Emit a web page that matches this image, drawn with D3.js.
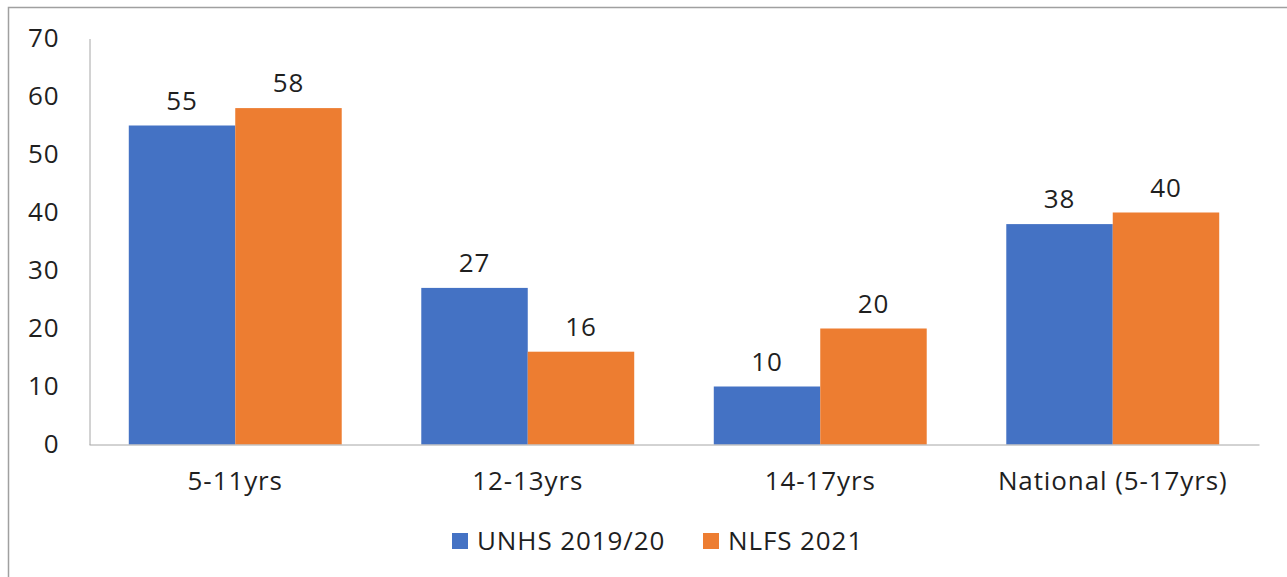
<!DOCTYPE html>
<html>
<head>
<meta charset="utf-8">
<script src="https://cdn.jsdelivr.net/npm/d3@7"></script>
<style>
  body { margin: 0; background: #fff; }
  svg { display: block; font-family: "Open Sans", "Noto Sans", sans-serif; }
  text { letter-spacing: 0.9px; }
</style>
</head>
<body>
<div id="chart"></div>
<script>
// データ
var categories = ['5-11yrs', '12-13yrs', '14-17yrs', 'National (5-17yrs)'];
var seriesNames = ['UNHS 2019/20', 'NLFS 2021'];
var unhs = [55, 27, 10, 38];
var nlfs = [58, 16, 20, 40];
var yTicks = [0, 10, 20, 30, 40, 50, 60, 70];
var colors = ['#4472C4', '#ED7D31'];

var width = 1287;
var height = 577;
var fontSize = 26;
var textColor = '#1f1f1f';

var svg = d3.select('#chart').append('svg')
  .attr('width', width)
  .attr('height', height);

// 外枠（上と左だけ見えている）
svg.append('path')
  .attr('d', 'M8.5,' + height + 'V7.5H' + width)
  .attr('fill', 'none')
  .attr('stroke', '#a0a0a0')
  .attr('stroke-width', 1.5);

var x0 = d3.scaleBand()
  .domain(categories)
  .range([89, 1259])
  .paddingInner(0.272)
  .paddingOuter(0.136);

var x1 = d3.scaleBand()
  .domain(seriesNames)
  .range([0, x0.bandwidth()]);

var y = d3.scaleLinear()
  .domain([0, 70])
  .range([444.5, 38.5]);

var rows = categories.map(function(c, i) {
  return { cat: c, vals: [unhs[i], nlfs[i]] };
});

// y軸
var yAxis = svg.append('g')
  .attr('transform', 'translate(89.5,0)')
  .call(d3.axisLeft(y).tickValues(yTicks).tickSize(0).tickPadding(30));
yAxis.select('.domain').attr('stroke', '#a6a6a6');
yAxis.selectAll('text')
  .attr('font-size', fontSize)
  .attr('fill', textColor)
  .attr('font-family', '"Open Sans", sans-serif');

// 棒
var group = svg.selectAll('.grp').data(rows).enter().append('g')
  .attr('class', 'grp')
  .attr('transform', function(d) { return 'translate(' + x0(d.cat) + ',0)'; });

group.selectAll('rect')
  .data(function(d) { return d.vals.map(function(v, i) { return { key: seriesNames[i], v: v, i: i }; }); })
  .enter().append('rect')
  .attr('x', function(d) { return x1(d.key); })
  .attr('y', function(d) { return y(d.v); })
  .attr('width', x1.bandwidth())
  .attr('height', function(d) { return y(0) - y(d.v); })
  .attr('fill', function(d) { return colors[d.i]; });

group.selectAll('.val')
  .data(function(d) { return d.vals.map(function(v, i) { return { key: seriesNames[i], v: v }; }); })
  .enter().append('text')
  .attr('class', 'val')
  .attr('x', function(d) { return x1(d.key) + x1.bandwidth() / 2; })
  .attr('y', function(d) { return y(d.v) - 16; })
  .attr('text-anchor', 'middle')
  .attr('font-size', fontSize)
  .attr('fill', textColor)
  .text(function(d) { return d.v; });

// x軸
var xAxis = svg.append('g')
  .attr('transform', 'translate(0,' + y(0) + ')')
  .call(d3.axisBottom(x0).tickSize(0).tickPadding(27).tickSizeOuter(0));
xAxis.select('.domain').attr('stroke', '#a6a6a6');
xAxis.selectAll('text')
  .attr('font-size', fontSize)
  .attr('fill', textColor)
  .attr('font-family', '"Open Sans", sans-serif');

// 凡例
var legendX = [452, 703];
var legend = svg.selectAll('.lg').data(seriesNames).enter().append('g')
  .attr('class', 'lg')
  .attr('transform', function(d, i) { return 'translate(' + legendX[i] + ',533)'; });
legend.append('rect')
  .attr('width', 16)
  .attr('height', 16)
  .attr('fill', function(d, i) { return colors[i]; });
legend.append('text')
  .attr('x', 25)
  .attr('y', 16.5)
  .attr('font-size', fontSize)
  .attr('fill', textColor)
  .text(function(d) { return d; });
</script>
</body>
</html>
